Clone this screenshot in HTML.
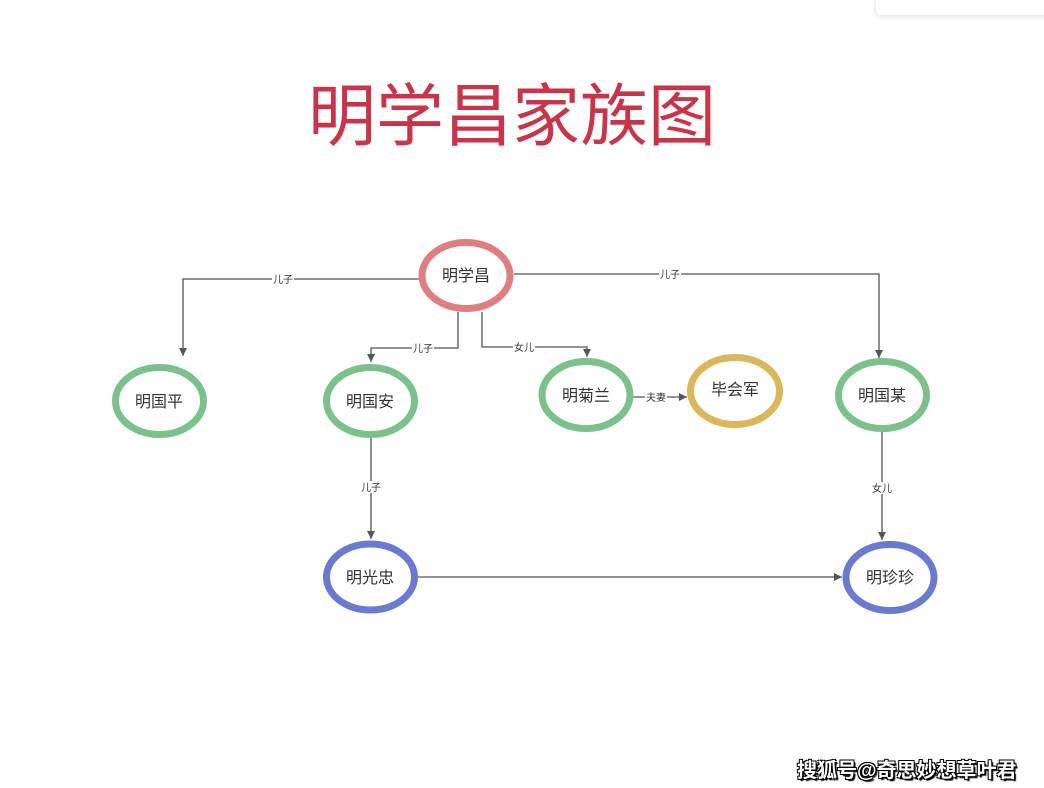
<!DOCTYPE html>
<html><head><meta charset="utf-8"><style>
html,body{margin:0;padding:0;background:#fff;}
body{width:1044px;height:788px;overflow:hidden;position:relative;font-family:"Liberation Sans","Noto Sans CJK SC",sans-serif;}
.card{position:absolute;left:875px;top:-10px;width:180px;height:24px;background:#fff;border:1px solid #eee;border-radius:6px;box-shadow:0 2px 6px rgba(0,0,0,0.08);}
.wm{position:absolute;left:797px;top:754px;font-size:20px;font-weight:bold;color:#fff;letter-spacing:0px;white-space:nowrap;
text-shadow:1px 1px 0 #000,-1px -1px 0 #000,1px -1px 0 #000,-1px 1px 0 #000,2px 2px 1px #000;}
</style></head><body>
<div class="card"></div>
<svg width="1044" height="788" viewBox="0 0 1044 788" xmlns="http://www.w3.org/2000/svg" style="position:absolute;left:0;top:0;">
<defs>
<marker id="ah" markerWidth="10" markerHeight="10" refX="8" refY="4" orient="auto" markerUnits="userSpaceOnUse">
<path d="M0,0 L8,4 L0,8 Z" fill="#555"/>
</marker>
</defs>
<text x="512" y="140" text-anchor="middle" font-family="Liberation Sans, Noto Sans CJK SC, sans-serif" font-size="68" font-weight="normal" fill="#c8354a">明学昌家族图</text>

<g fill="none" stroke="#555" stroke-width="1.3">
<polyline points="419,279 183,279 183,356" marker-end="url(#ah)"/>
<polyline points="458,312 458,348 371,348 371,362" marker-end="url(#ah)"/>
<polyline points="482,312 482,347 587,347 587,357" marker-end="url(#ah)"/>
<polyline points="514,274 879,274 879,358" marker-end="url(#ah)"/>
<polyline points="633,397 687,397" marker-end="url(#ah)"/>
<polyline points="371,438 371,539" marker-end="url(#ah)"/>
<polyline points="882,432 882,540" marker-end="url(#ah)"/>
<polyline points="418,577 842,577" marker-end="url(#ah)"/>
</g>

<g font-family="Liberation Sans, Noto Sans CJK SC, sans-serif" font-size="10" fill="#333" text-anchor="middle">
<rect x="272" y="273" width="22" height="12" fill="#fff"/><text x="283" y="283">儿子</text>
<rect x="412" y="342" width="22" height="12" fill="#fff"/><text x="423" y="352">儿子</text>
<rect x="513" y="341" width="22" height="12" fill="#fff"/><text x="524" y="351">女儿</text>
<rect x="659" y="268" width="22" height="12" fill="#fff"/><text x="670" y="278">儿子</text>
<rect x="645" y="391" width="22" height="12" fill="#fff"/><text x="656" y="401">夫妻</text>
<rect x="360" y="481" width="22" height="12" fill="#fff"/><text x="371" y="491">儿子</text>
<rect x="871" y="482" width="22" height="12" fill="#fff"/><text x="882" y="492">女儿</text>
</g>

<g fill="#fff" stroke-width="7">
<ellipse cx="466" cy="275.5" rx="44" ry="33" stroke="#dd7f80"/>
<ellipse cx="159.5" cy="401" rx="44" ry="33.5" stroke="#7cc18b"/>
<ellipse cx="370.5" cy="401" rx="44" ry="33.5" stroke="#7cc18b"/>
<ellipse cx="586" cy="395" rx="44" ry="33.5" stroke="#7cc18b"/>
<ellipse cx="735" cy="391" rx="44.5" ry="33.5" stroke="#dab65c"/>
<ellipse cx="882.5" cy="395" rx="44" ry="33.5" stroke="#7cc18b"/>
<ellipse cx="370.5" cy="577" rx="44" ry="33" stroke="#6b79cf"/>
<ellipse cx="890" cy="577.5" rx="44" ry="33" stroke="#6b79cf"/>
</g>

<g font-family="Liberation Sans, Noto Sans CJK SC, sans-serif" font-size="16" fill="#333" text-anchor="middle">
<text x="466" y="281">明学昌</text>
<text x="159" y="407">明国平</text>
<text x="370" y="407">明国安</text>
<text x="586" y="401">明菊兰</text>
<text x="735" y="395">毕会军</text>
<text x="882" y="401">明国某</text>
<text x="370" y="583">明光忠</text>
<text x="890" y="583">明珍珍</text>
</g>
</svg>
<div class="wm">搜狐号@奇思妙想草叶君</div>
</body></html>
